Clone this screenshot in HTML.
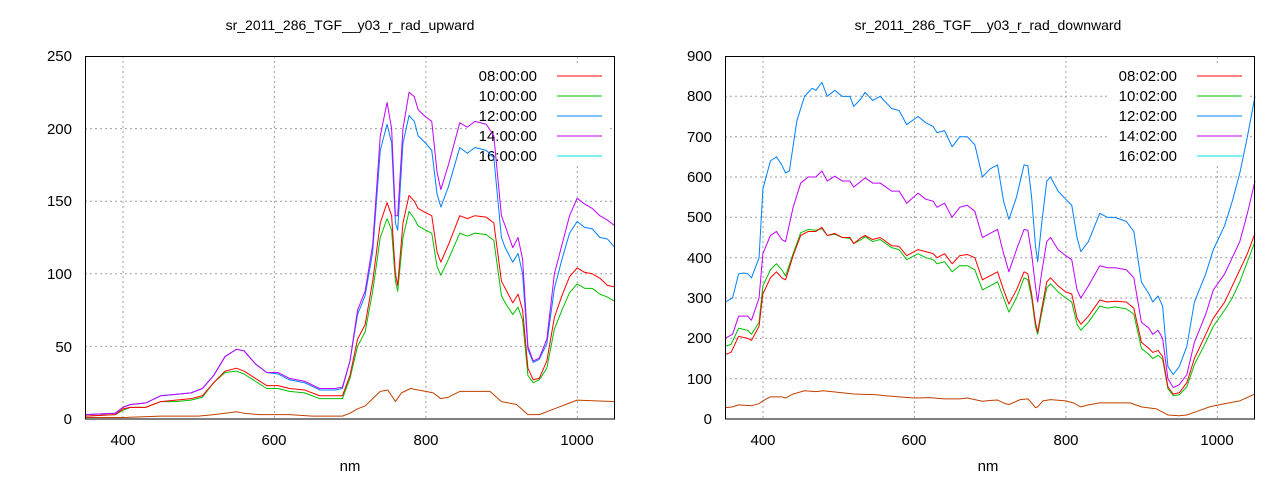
<!DOCTYPE html>
<html><head><style>
body{margin:0;background:#fff;}
svg{display:block;font-family:"Liberation Sans",sans-serif;}
.g{stroke:#a0a0a0;stroke-width:1;stroke-dasharray:2,3;fill:none}
.s{fill:none;stroke-width:1;vector-effect:non-scaling-stroke;stroke-linejoin:round}
text{font-size:15px;fill:#000}
.t{font-size:14px}
</style></head><body>
<svg width="1280" height="480" viewBox="0 0 1280 480">
<!-- LEFT -->
<text class="t" x="350" y="30" text-anchor="middle">sr_2011_286_TGF__y03_r_rad_upward</text>
<g class="g">
<path d="M123,56V419M274.4,56V419M425.9,56V419M577.3,56V419"/>
<path d="M85,346.4H615M85,273.8H615M85,201.2H615M85,128.6H615"/>
</g>
<rect x="470" y="63" width="140" height="100" fill="#fff"/>
<g text-anchor="end">
<text x="72" y="424">0</text><text x="72" y="352">50</text><text x="72" y="279">100</text><text x="72" y="206">150</text><text x="72" y="134">200</text><text x="72" y="61">250</text>
</g>
<g text-anchor="middle">
<text x="123" y="445">400</text><text x="274" y="445">600</text><text x="426" y="445">800</text><text x="577" y="445">1000</text>
<text x="350" y="471">nm</text>
</g>
<g text-anchor="end">
<text x="537" y="81">08:00:00</text><text x="537" y="101">10:00:00</text><text x="537" y="121">12:00:00</text><text x="537" y="141">14:00:00</text><text x="537" y="161">16:00:00</text>
</g>
<path d="M557,76H602" stroke="#ff0000"/><path d="M557,96H602" stroke="#00c000"/><path d="M557,116H602" stroke="#0080ff"/><path d="M557,136H602" stroke="#c000ff"/><path d="M557,156H602" stroke="#00e0e0"/>
<g transform="translate(85,419) scale(0.7571,-1.452) translate(-350,0)">
<polyline class="s" stroke="#c04000" points="350,1 400,1 450,2 500,2 520,3 535,4 550,5 560,4 580,3 620,3 650,2 690,2 700,4 710,7 720,9 730,14 740,19 750,20 755,16 760,12 768,18 780,21 790,20 800,19 810,18 820,14 830,15 845,19 885,19 900,12 920,10 935,3 950,3 970,7 990,11 1000,13 1050,12"/>
<polyline class="s" stroke="#00c000" points="350,2 390,3 400,6 410,8 430,8 450,12 470,12 490,13 505,15 520,25 535,32 550,33 560,31 575,26 590,21 605,21 620,19 640,18 660,14 680,14 690,14 700,28 710,50 720,60 730,88 740,125 749,138 755,130 760,95 763,88 770,125 778,143 785,138 790,133 800,130 808,128 815,105 820,99 830,110 845,128 855,126 865,128 880,127 890,123 900,85 905,80 915,72 922,77 928,68 935,30 942,25 950,27 960,35 970,62 980,75 990,87 1000,93 1010,90 1020,90 1030,86 1040,84 1050,81"/>
<polyline class="s" stroke="#ff0000" points="350,2 390,3 400,7 410,8 430,8 450,12 470,13 490,14 505,16 520,25 535,33 550,35 560,33 575,28 590,23 605,23 620,21 640,20 660,16 680,16 690,16 700,30 710,55 720,65 730,95 740,135 749,149 755,140 760,100 763,92 770,135 778,154 785,150 790,145 800,142 808,140 815,115 820,108 830,120 845,140 855,138 865,140 880,139 890,135 900,95 905,90 915,80 922,86 928,75 935,35 942,27 950,28 960,40 970,70 980,85 990,98 1000,104 1010,101 1020,100 1030,97 1040,92 1050,91"/>
<polyline class="s" stroke="#0080ff" points="350,3 390,4 400,8 410,10 430,11 450,16 470,17 490,18 505,21 520,30 535,43 550,48 560,47 575,38 590,32 605,31 620,27 640,25 660,20 680,20 690,21 700,40 710,72 720,85 730,115 740,185 749,203 755,190 760,135 763,130 770,190 778,209 785,205 790,195 800,190 808,185 815,155 820,146 830,160 845,187 855,183 865,187 880,185 890,180 900,125 905,118 915,108 922,114 928,100 935,48 942,39 950,41 960,52 970,90 980,110 990,128 1000,136 1010,132 1020,131 1030,125 1040,124 1050,118"/>
<polyline class="s" stroke="#c000ff" points="350,3 390,4 400,8 410,10 430,11 450,16 470,17 490,18 505,21 520,30 535,43 550,48 560,47 575,38 590,32 605,32 620,28 640,26 660,21 680,21 690,22 700,40 710,75 720,88 730,120 740,195 749,218 755,200 760,140 763,140 770,200 778,225 785,222 790,213 800,208 808,205 815,170 820,158 830,175 845,204 855,201 865,205 880,203 890,195 900,140 905,133 915,118 922,125 928,110 935,50 942,40 950,42 960,55 970,100 980,120 990,140 1000,152 1010,148 1020,145 1030,140 1040,137 1050,133"/>
</g>
<rect x="85.5" y="56.5" width="529" height="362.5" fill="none" stroke="#000"/>

<!-- RIGHT -->
<text class="t" x="988" y="30" text-anchor="middle">sr_2011_286_TGF__y03_r_rad_downward</text>
<g class="g">
<path d="M763,56V419M914.4,56V419M1065.9,56V419M1217.3,56V419"/>
<path d="M725,378.7H1255M725,338.3H1255M725,298H1255M725,257.7H1255M725,217.3H1255M725,177H1255M725,136.7H1255M725,96.3H1255"/>
</g>
<rect x="1110" y="63" width="140" height="100" fill="#fff"/>
<g text-anchor="end">
<text x="712" y="424">0</text><text x="712" y="384">100</text><text x="712" y="343">200</text><text x="712" y="303">300</text><text x="712" y="263">400</text><text x="712" y="222">500</text><text x="712" y="182">600</text><text x="712" y="142">700</text><text x="712" y="101">800</text><text x="712" y="61">900</text>
</g>
<g text-anchor="middle">
<text x="763" y="445">400</text><text x="914" y="445">600</text><text x="1066" y="445">800</text><text x="1217" y="445">1000</text>
<text x="988" y="471">nm</text>
</g>
<g text-anchor="end">
<text x="1177" y="81">08:02:00</text><text x="1177" y="101">10:02:00</text><text x="1177" y="121">12:02:00</text><text x="1177" y="141">14:02:00</text><text x="1177" y="161">16:02:00</text>
</g>
<path d="M1197,76H1242" stroke="#ff0000"/><path d="M1197,96H1242" stroke="#00c000"/><path d="M1197,116H1242" stroke="#0080ff"/><path d="M1197,136H1242" stroke="#c000ff"/><path d="M1197,156H1242" stroke="#00e0e0"/>
<g transform="translate(725,419) scale(0.7571,-0.4033) translate(-350,0)">
<polyline class="s" stroke="#c04000" points="350,28 360,30 368,35 385,33 395,38 400,45 410,55 425,55 430,52 440,62 455,70 470,68 480,70 500,66 520,62 550,60 560,58 580,55 600,52 620,53 640,50 660,50 670,52 690,44 700,46 710,47 720,38 725,36 740,48 750,50 755,40 760,28 763,30 770,45 780,48 800,45 810,40 820,30 830,35 845,40 885,40 900,30 920,25 935,10 950,8 960,10 975,20 990,30 1010,38 1030,45 1050,62"/>
<polyline class="s" stroke="#00c000" points="350,180 358,185 368,225 380,220 385,210 395,240 400,330 410,370 418,385 425,370 430,355 440,410 450,462 460,470 470,468 478,472 485,455 495,458 505,450 515,448 520,435 530,445 535,452 545,440 555,445 570,425 580,420 590,395 605,410 615,400 625,395 630,385 640,390 650,365 660,380 670,380 680,370 690,320 700,330 710,340 718,300 725,265 735,300 745,350 750,345 755,300 760,230 763,210 768,260 775,325 780,335 790,315 800,300 808,290 815,235 820,220 830,240 845,280 855,275 865,278 880,273 890,260 900,175 910,160 915,150 922,158 928,148 935,75 942,58 950,60 960,80 970,135 985,190 995,230 1010,270 1020,300 1030,340 1040,390 1050,440"/>
<polyline class="s" stroke="#ff0000" points="350,160 358,165 368,205 380,200 385,195 395,230 400,310 410,350 418,365 425,350 430,345 440,405 450,455 460,465 470,465 478,475 485,455 495,460 505,450 515,450 520,435 530,450 535,455 545,445 555,450 570,430 580,428 590,405 605,420 615,415 625,410 630,400 640,410 650,385 660,405 670,408 680,400 690,345 700,355 710,365 718,320 725,285 735,320 745,365 750,360 755,310 760,240 763,215 768,270 775,340 780,350 790,330 800,315 808,310 815,250 820,235 830,255 845,295 855,290 865,292 880,290 890,275 900,190 910,175 915,165 922,170 928,155 935,80 942,62 950,65 960,90 970,150 985,210 995,250 1010,290 1020,330 1030,370 1040,410 1050,460"/>
<polyline class="s" stroke="#c000ff" points="350,200 360,210 368,255 380,255 385,245 395,300 400,410 410,455 418,465 425,445 430,440 440,525 450,585 460,600 470,600 478,615 485,590 495,602 505,590 515,590 520,575 530,590 535,598 545,585 555,585 570,565 580,565 590,535 605,560 615,545 625,540 630,525 640,535 650,500 660,525 670,530 680,515 690,450 700,460 710,470 718,410 725,365 735,420 745,470 750,468 755,410 760,330 763,290 768,360 775,440 780,450 790,420 800,405 808,395 815,320 820,300 830,330 845,380 855,375 865,375 880,370 890,350 900,240 910,225 915,210 922,220 928,200 935,100 942,78 950,85 960,110 970,190 985,260 995,320 1010,360 1020,400 1030,440 1040,510 1050,590"/>
<polyline class="s" stroke="#0080ff" points="350,290 355,295 360,300 368,360 375,362 380,360 385,350 390,375 395,400 400,570 410,640 418,650 425,630 430,610 435,615 445,740 455,800 465,820 470,815 478,835 485,800 495,815 505,800 515,800 520,775 530,795 535,810 545,790 555,800 570,770 580,765 590,730 605,750 615,735 625,725 630,710 640,715 650,675 660,700 670,700 680,680 690,600 700,620 710,630 718,540 725,495 735,550 745,630 750,628 755,550 760,430 763,390 768,480 775,590 780,600 790,565 800,545 808,530 815,450 820,415 830,440 845,510 855,500 865,500 880,490 890,465 900,340 910,310 915,290 922,305 928,280 935,130 942,110 950,130 960,180 970,290 985,360 995,420 1010,480 1020,540 1030,610 1040,700 1050,800"/>
</g>
<rect x="725.5" y="56.5" width="529" height="362.5" fill="none" stroke="#000"/>
</svg>
</body></html>
